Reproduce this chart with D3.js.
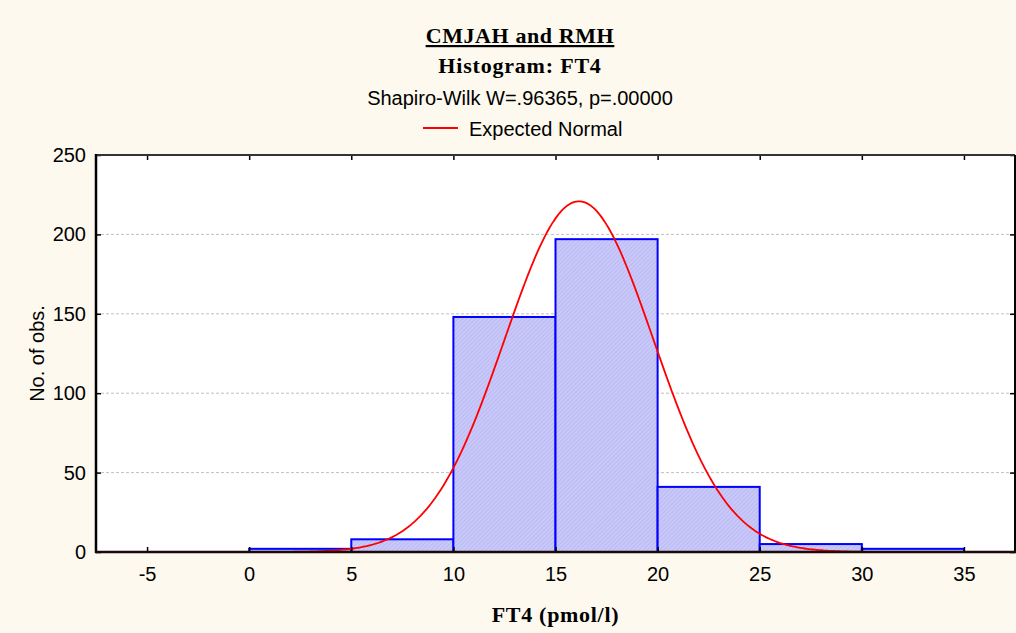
<!DOCTYPE html>
<html><head><meta charset="utf-8">
<script src="https://cdn.jsdelivr.net/npm/d3@7"></script>
<style>body{margin:0;background:#fdf9ee}svg{display:block}</style>
</head><body>
<svg id="c" width="1016" height="633"></svg>
<script>
const binStarts = [0, 5, 10, 15, 20, 25, 30];
const binWidth = 5;
const counts = [2, 8, 148, 197, 41, 5, 2];
const xTicks = [-5, 0, 5, 10, 15, 20, 25, 30, 35];
const yTicks = [0, 50, 100, 150, 200, 250];
const normalMean = 16.15;
const normalSD = 3.64;
const titleLines = ["CMJAH and RMH", "Histogram: FT4"];
const subtitle = "Shapiro-Wilk W=.96365, p=.00000";
const legendLabel = "Expected Normal";
const xLabel = "FT4 (pmol/l)";
const yLabel = "No. of obs.";

const svg = d3.select("#c");
const L = 96, R = 1015, T = 155, B = 552;
svg.append("rect").attr("width",1016).attr("height",633).attr("fill","#fdf9ee");

const x = d3.scaleLinear().domain([-7.5, 37.5]).range([L, R]);
const y = d3.scaleLinear().domain([0, 250]).range([B, T]);

const defs = svg.append("defs");
const pat = defs.append("pattern").attr("id","hatch").attr("patternUnits","userSpaceOnUse")
  .attr("width",3).attr("height",3).attr("patternTransform","rotate(45)");
pat.append("rect").attr("width",3).attr("height",3).attr("fill","#c8c8fa");
pat.append("line").attr("x1",0).attr("y1",0).attr("x2",0).attr("y2",3).attr("stroke","#b2b2ee").attr("stroke-width",1.2);
defs.append("clipPath").attr("id","clip").append("rect").attr("x",L).attr("y",T).attr("width",R-L).attr("height",B-T);

svg.append("rect").attr("x",L).attr("y",T).attr("width",R-L).attr("height",B-T).attr("fill","#ffffff");

// grid
svg.append("g").selectAll("line").data(yTicks.filter(d=>d>0 && d<250)).join("line")
  .attr("x1",L).attr("x2",R).attr("y1",d=>y(d)).attr("y2",d=>y(d))
  .attr("stroke","#c0c0c0").attr("stroke-dasharray","3,2").attr("stroke-width",1);

// bars
const bins = binStarts.map((s,i)=>({x0:s, x1:s+binWidth, n:counts[i]}));
svg.append("g").selectAll("rect").data(bins).join("rect")
  .attr("x",d=>x(d.x0)).attr("width",d=>x(d.x1)-x(d.x0))
  .attr("y",d=>y(d.n)).attr("height",d=>y(0)-y(d.n))
  .attr("fill","url(#hatch)").attr("stroke","#0000ff").attr("stroke-width",2);

// normal curve
const N = d3.sum(counts);
const xs = d3.range(-7.5, 37.5001, 0.1);
const curve = xs.map(v=>[v, N*binWidth/(normalSD*Math.sqrt(2*Math.PI))*Math.exp(-0.5*((v-normalMean)/normalSD)**2)]);
svg.append("path").datum(curve).attr("clip-path","url(#clip)")
  .attr("d", d3.line().x(d=>x(d[0])).y(d=>y(d[1])))
  .attr("fill","none").attr("stroke","#ff0000").attr("stroke-width",1.8);

// axes
const font = "'Liberation Sans', Arial, sans-serif";
const serif = "'Liberation Serif', 'Times New Roman', serif";
const fmt = d => String(d);
const xAxB = svg.append("g").attr("transform",`translate(0,${B})`)
  .call(d3.axisBottom(x).tickValues(xTicks).tickFormat(fmt).tickSizeInner(-5).tickSizeOuter(0).tickPadding(15));
const xAxT = svg.append("g").attr("transform",`translate(0,${T})`)
  .call(d3.axisTop(x).tickValues(xTicks).tickSizeInner(-5).tickSizeOuter(0).tickFormat(""));
const yAxL = svg.append("g").attr("transform",`translate(${L},0)`)
  .call(d3.axisLeft(y).tickValues(yTicks).tickFormat(fmt).tickSizeInner(-5).tickSizeOuter(0).tickPadding(10));
const yAxR = svg.append("g").attr("transform",`translate(${R},0)`)
  .call(d3.axisRight(y).tickValues(yTicks).tickSizeInner(-5).tickSizeOuter(0).tickFormat(""));
[xAxB,xAxT,yAxL,yAxR].forEach(g=>{
  g.select(".domain").remove();
  g.selectAll(".tick line").attr("stroke","#000").attr("stroke-width",1.5);
  g.selectAll("text").attr("font-family",font).attr("font-size",20).attr("fill","#000");
});
// frame
svg.append("line").attr("x1",L).attr("x2",R).attr("y1",T).attr("y2",T).attr("stroke","#333").attr("stroke-width",2);
svg.append("line").attr("x1",R).attr("x2",R).attr("y1",T).attr("y2",B).attr("stroke","#000").attr("stroke-width",2);
svg.append("line").attr("x1",L).attr("x2",L).attr("y1",T-1).attr("y2",B+1).attr("stroke","#000").attr("stroke-width",2.5);
svg.append("line").attr("x1",L-1).attr("x2",R+1).attr("y1",B).attr("y2",B).attr("stroke","#1a0a0a").attr("stroke-width",2.5);

// titles
const cx = 520;
svg.append("text").attr("x",cx).attr("y",43).attr("text-anchor","middle")
  .attr("font-family",serif).attr("font-weight","bold").attr("font-size",22).attr("letter-spacing",0.6)
  .attr("text-decoration","underline").text(titleLines[0]);
svg.append("text").attr("x",cx).attr("y",73).attr("text-anchor","middle")
  .attr("font-family",serif).attr("font-weight","bold").attr("font-size",22).attr("letter-spacing",0.8)
  .text(titleLines[1]);
svg.append("text").attr("x",cx).attr("y",105).attr("text-anchor","middle")
  .attr("font-family",font).attr("font-size",20).text(subtitle);
svg.append("line").attr("x1",423).attr("x2",458).attr("y1",128).attr("y2",128).attr("stroke","#ff0000").attr("stroke-width",1.8);
svg.append("text").attr("x",469).attr("y",136).attr("font-family",font).attr("font-size",20).text(legendLabel);

// axis labels
svg.append("text").attr("x",(L+R)/2).attr("y",622).attr("text-anchor","middle")
  .attr("font-family",serif).attr("font-weight","bold").attr("font-size",22).attr("letter-spacing",0.7).text(xLabel);
svg.append("text").attr("transform",`translate(44,${(T+B)/2}) rotate(-90)`).attr("text-anchor","middle")
  .attr("font-family",font).attr("font-size",20).text(yLabel);
</script>
</body></html>
